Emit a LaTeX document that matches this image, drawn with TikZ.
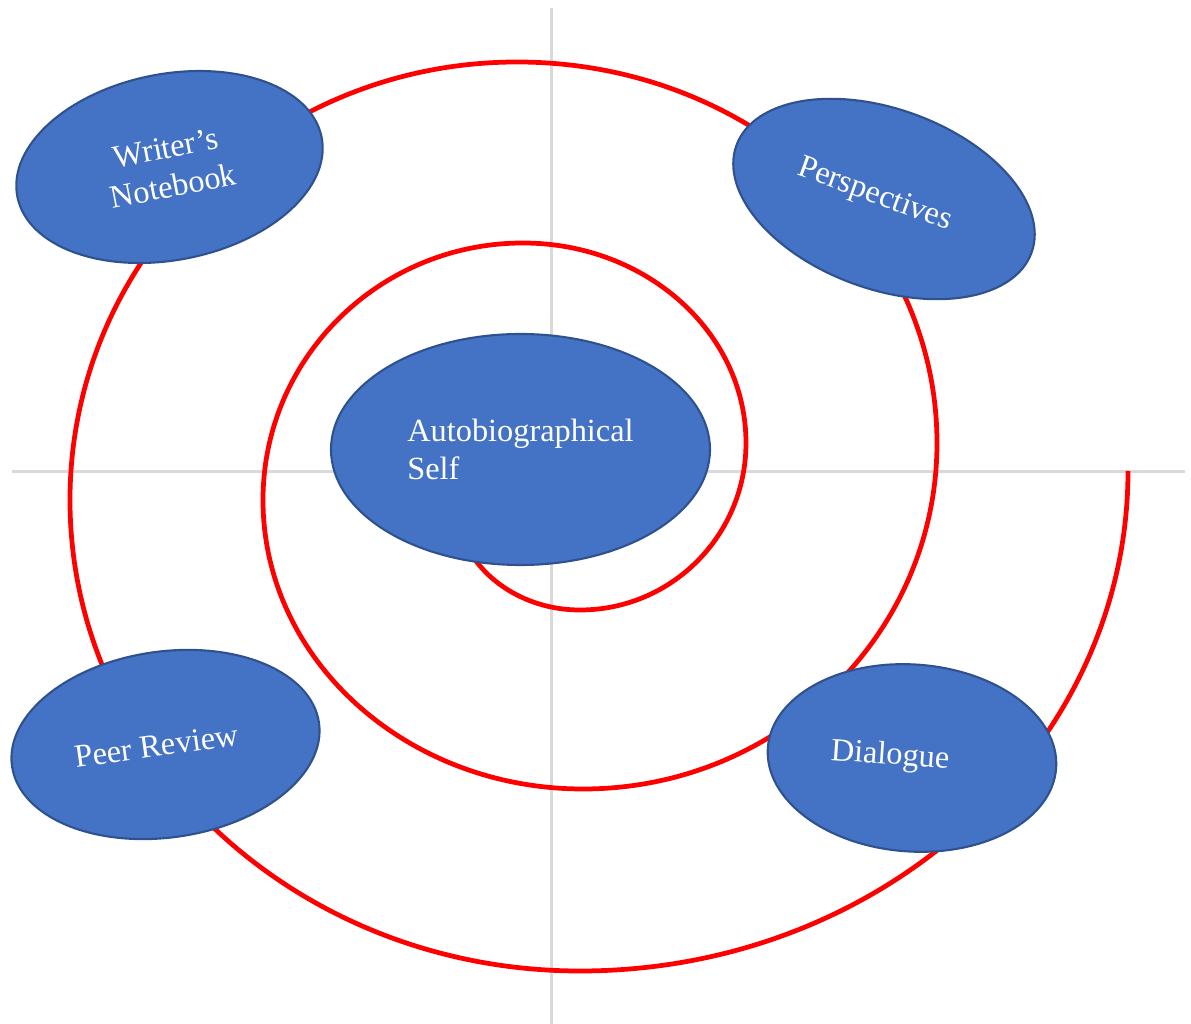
\documentclass[tikz,border=0pt]{standalone}
\usepackage{xcolor}
\usepackage{fontspec}
\setmainfont{Liberation Serif}
\usepackage{tikz}
\usetikzlibrary{shapes.geometric,positioning,calc}
\definecolor{bubble_blue}{HTML}{4472C4}
\definecolor{bubble_edge}{HTML}{2F528F}
\definecolor{axis_grey}{HTML}{D9D9D9}

\begin{document}
\begin{tikzpicture}[
    bubble/.style={ellipse, fill=bubble_blue, draw=bubble_edge, line width=0.6pt,
      text=white, inner sep=0pt, align=center, font=\fontsize{9.2}{11}\selectfont}]
  \useasboundingbox (0, 0) rectangle (11.91, 10.24);

  % the two grey axes
  \coordinate (axis_west) at (0.12, 5.525);
  \coordinate (axis_east) at (11.85, 5.525);
  \coordinate (axis_north) at (5.515, 10.16);
  \coordinate (axis_south) at (5.515, 0);
  \draw [axis_grey, line width=0.7pt] (axis_west) to (axis_east);
  \draw [axis_grey, line width=0.7pt] (axis_north) to (axis_south);

  % spiral, one quarter turn per arc, winding inwards
  \draw [red, line width=1.35pt] (11.28, 5.53)
    arc [start angle=0, end angle=-90, x radius=5.48cm, y radius=5.00cm]
    arc [start angle=-90, end angle=-180, x radius=5.10cm, y radius=4.71cm]
    arc [start angle=180, end angle=90, x radius=4.47cm, y radius=4.38cm]
    arc [start angle=90, end angle=0, x radius=4.20cm, y radius=3.81cm]
    arc [start angle=0, end angle=-90, x radius=3.54cm, y radius=3.46cm]
    arc [start angle=-90, end angle=-180, x radius=3.20cm, y radius=2.89cm]
    arc [start angle=180, end angle=90, x radius=2.60cm, y radius=2.57cm]
    arc [start angle=90, end angle=0, x radius=2.23cm, y radius=2.00cm]
    arc [start angle=0, end angle=-90, x radius=1.66cm, y radius=1.67cm]
    arc [start angle=-90, end angle=-165, x radius=1.25cm, y radius=1.10cm];

  % the five bubbles (trailing space pushes a label off centre)
  \node (writers_notebook) [bubble, minimum width=3.10cm, minimum height=1.86cm, rotate=11]
    at (1.695, 8.57) {Writer’s\\Notebook};
  \node (perspectives) [bubble, minimum width=3.14cm, minimum height=1.80cm, rotate=-20]
    at (8.84, 8.25) {Perspectives\hspace*{0.2cm}};
  \node (autobiographical_self) [bubble, minimum width=3.79cm, minimum height=2.31cm, align=left]
    at (5.205, 5.745) {Autobiographical\\Self};
  \node (peer_review) [bubble, minimum width=3.10cm, minimum height=1.86cm, rotate=8]
    at (1.655, 2.795) {Peer Review\hspace*{0.18cm}};
  \node (dialogue) [bubble, minimum width=2.89cm, minimum height=1.87cm, rotate=-4]
    at (9.12, 2.66) {Dialogue\hspace*{0.44cm}};
\end{tikzpicture}
\end{document}
